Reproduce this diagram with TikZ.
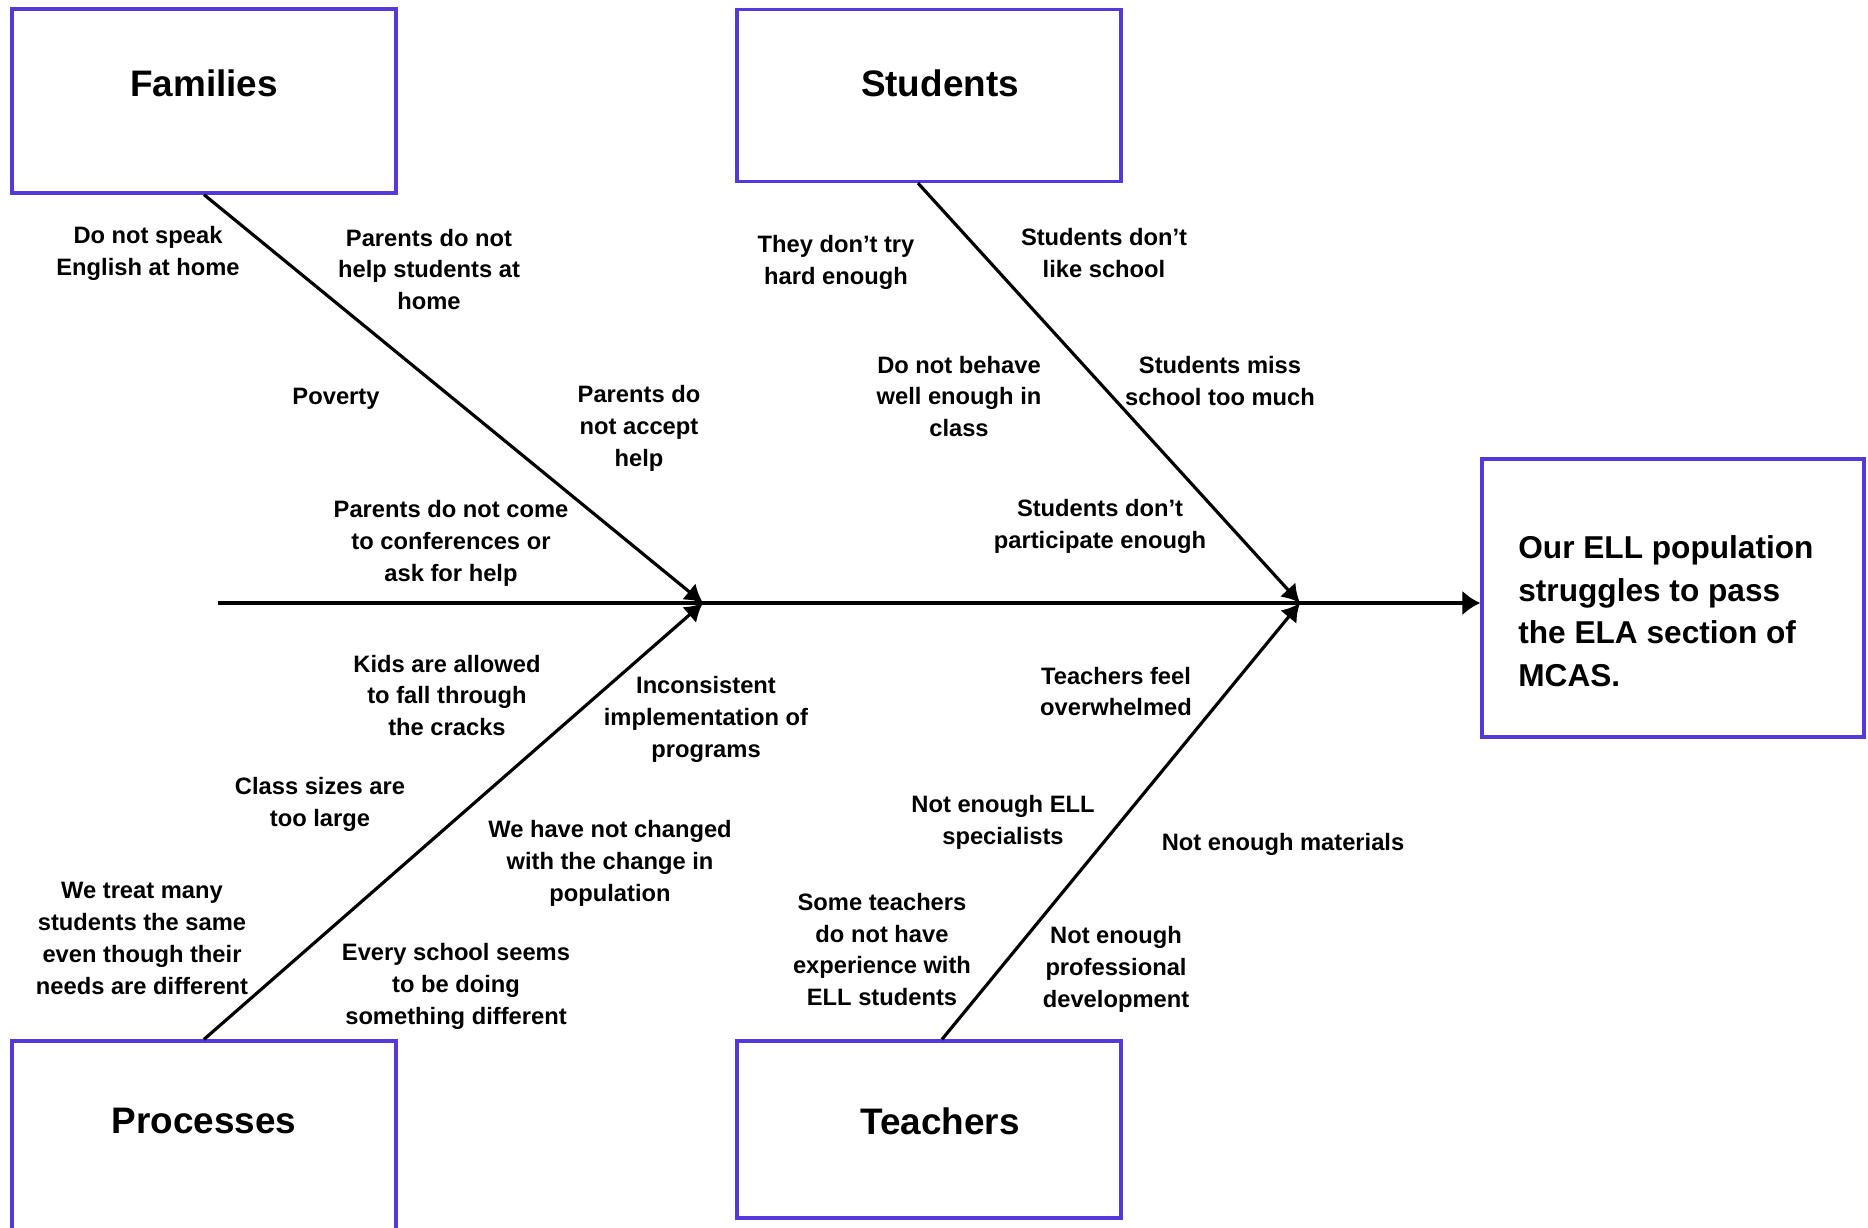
\documentclass[tikz,border=0pt]{standalone}
\usepackage{fontspec}
\setmainfont{Liberation Sans}
\usetikzlibrary{arrows.meta,positioning}
\definecolor{boxblue}{RGB}{85,55,220}

\begin{document}
\begin{tikzpicture}[x=0.02cm, y=-0.02cm,
  catbox/.style={draw=boxblue, line width=1.9pt, inner sep=0pt},
  cattitle/.style={font=\fontsize{21}{25}\selectfont\bfseries},
  cause/.style={align=center, inner sep=1pt, yshift=-0.05cm,
                font=\fontsize{13.5}{18.2}\selectfont\bfseries},
  bone/.style={line width=1.8pt, -{Latex[length=0.36cm, width=0.42cm]}},
  spine/.style={line width=2.2pt, -{Latex[length=0.36cm, width=0.5cm]}}
]
  \useasboundingbox (0,0) rectangle (1868,1227);

  \node[catbox, minimum width=7.68cm, minimum height=3.68cm] (fam)  at (204,101)  {};
  \node[catbox, minimum width=7.68cm, minimum height=3.44cm] (stu)  at (929,95.5) {};
  \node[catbox, minimum width=7.68cm, minimum height=3.8cm]  (proc) at (204,1136) {};
  \node[catbox, minimum width=7.68cm, minimum height=3.54cm] (tea)  at (929,1129.5){};
  \node[catbox, minimum width=7.64cm, minimum height=5.56cm] (effect) at (1673,598) {};

  \node[cattitle] (famT)  at (204,83)  {Families};
  \node[cattitle] (stuT)  at (940,83)  {Students};
  \node[cattitle] (procT) at (204,1121){Processes};
  \node[cattitle] (teaT)  at (940,1121){Teachers};
  \node[anchor=west, align=left, inner sep=0pt,
        font=\fontsize{18}{24.2}\selectfont\bfseries] (effectT) at (1518,611)
    {Our ELL population\\struggles to pass\\the ELA section of\\MCAS.};

  \coordinate (tail) at (218,603);
  \coordinate (j1)   at (703,603);
  \coordinate (j2)   at (1300,603);

  \draw[spine] (tail) -- (tail -| effect.west);
  \draw[bone] (fam.south) -- (j1);
  \draw[bone] (proc.north) -- (j1);
  \draw[bone] ([xshift=-0.22cm]stu.south) -- (j2);
  \draw[bone] ([xshift=0.26cm]tea.north) -- (j2);

  \node[cause] (famA) at (148,251) {Do not speak\\English at home};
  \node[cause] (famB) at (429,267) {Parents do not\\help students at\\home};
  \node[cause] (famC) at (336,396) {Poverty};
  \node[cause] (famD) at (639,426) {Parents do\\not accept\\help};
  \node[cause] (famE) at (451,541) {Parents do not come\\to conferences or\\ask for help};

  \node[cause] (stuA) at (836,260)  {They don’t try\\hard enough};
  \node[cause] (stuB) at (1104,251) {Students don’t\\like school};
  \node[cause] (stuC) at (959,394)  {Do not behave\\well enough in\\class};
  \node[cause] (stuD) at (1220,379) {Students miss\\school too much};
  \node[cause] (stuE) at (1100,524) {Students don’t\\participate enough};

  \node[cause] (procA) at (447,693) {Kids are allowed\\to fall through\\the cracks};
  \node[cause] (procB) at (706,717) {Inconsistent\\implementation of\\programs};
  \node[cause] (procC) at (320,802) {Class sizes are\\too large};
  \node[cause] (procD) at (610,861) {We have not changed\\with the change in\\population};
  \node[cause] (procE) at (142,936) {We treat many\\students the same\\even though their\\needs are different};
  \node[cause] (procF) at (456,984) {Every school seems\\to be doing\\something different};

  \node[cause] (teaA) at (1116,689) {Teachers feel\\overwhelmed};
  \node[cause] (teaB) at (1003,820) {Not enough ELL\\specialists};
  \node[cause] (teaC) at (1283,842) {Not enough materials};
  \node[cause] (teaD) at (882,947)  {Some teachers\\do not have\\experience with\\ELL students};
  \node[cause] (teaE) at (1116,967) {Not enough\\professional\\development};
\end{tikzpicture}
\end{document}
